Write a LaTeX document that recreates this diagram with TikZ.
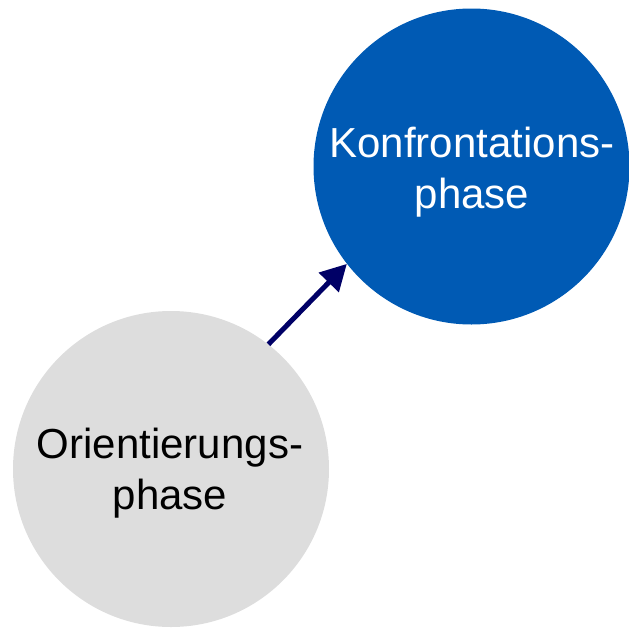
\documentclass[tikz,border=0pt]{standalone}
\usepackage{fontspec}
\setmainfont{Liberation Sans}
\usetikzlibrary{arrows.meta}
\definecolor{phaseblue}{RGB}{0,90,180}
\definecolor{phasegray}{RGB}{221,221,221}
\definecolor{arrownavy}{RGB}{0,0,102}
\tikzset{
  phasecircle/.style={circle, minimum size=316pt, inner sep=0pt, draw=none},
  phaselabel/.style={align=center, anchor=base, inner sep=0pt,
    font=\fontsize{42}{51}\selectfont},
  flowarrow/.style={draw=arrownavy, line width=5pt,
    -{Triangle[length=26pt,width=27pt]}}
}
\begin{document}
\begin{tikzpicture}[x=1pt,y=-1pt]
  \useasboundingbox (0,0) rectangle (629,627);
  % the two phases
  \node[phasecircle, fill=phasegray] (orient) at (171,469) {};
  \node[phasecircle, fill=phaseblue] (konfr) at (471.5,166.5) {};
  % their names (anchored at the baseline of the last line)
  \node[phaselabel, text=black] (orienttext) at (170,509) {Orientierungs-\\phase};
  \node[phaselabel, text=white] (konfrtext) at (472,208) {Konfrontations-\\phase};
  % transition between the phases
  \draw[flowarrow] (orient.52) -- (konfr.218);
\end{tikzpicture}
\end{document}
